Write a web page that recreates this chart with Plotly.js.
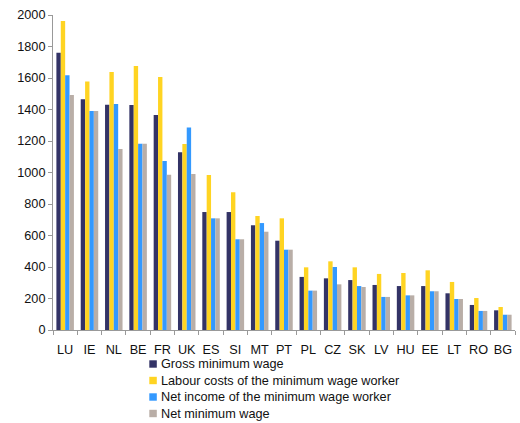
<!DOCTYPE html>
<html><head><meta charset="utf-8">
<script src="https://cdn.plot.ly/plotly-3.0.1.min.js"></script>
<style>html,body{margin:0;padding:0;background:#fff}#chart{width:520px;height:423px}</style>
</head><body><div id="chart"></div>
<script>
const countries = ["LU","IE","NL","BE","FR","UK","ES","SI","MT","PT","PL","CZ","SK","LV","HU","EE","LT","RO","BG"];
const grossMinWage = [1761,1465,1430,1429,1365,1128,749,749,665,567,337,328,317,286,279,279,233,159,125];
const labourCosts = [1962,1577,1638,1676,1606,1181,984,874,724,709,398,436,398,356,362,379,305,203,146];
const netIncome = [1617,1390,1435,1183,1073,1285,709,576,679,510,250,400,279,210,220,246,197,121,97];
const netMinWage = [1492,1390,1149,1183,986,990,709,576,624,510,250,290,273,210,220,246,197,121,97];
const seriesNames = ["Gross minimum wage","Labour costs of the minimum wage worker","Net income of the minimum wage worker","Net minimum wage"];
const colors = ["#333366","#FFD422","#3399FF","#B9AEA7"];
const vals = [grossMinWage, labourCosts, netIncome, netMinWage];
const traces = vals.map((v,i)=>({type:"bar",x:countries,y:v,name:seriesNames[i],marker:{color:colors[i]},showlegend:false}));

// Manual legend (paper coordinates): plot area is 462 x 315 px starting at (53,15)
const W = 462, H = 315;
const px = x => (x-53)/W, py = y => (330-y)/H;
const legendY = [364,380.5,397,413.5];
const shapes = [], annotations = [];
seriesNames.forEach((n,i)=>{
  shapes.push({type:"rect",xref:"paper",yref:"paper",x0:px(149.3),x1:px(156.8),y0:py(legendY[i]+3.7),y1:py(legendY[i]-3.7),fillcolor:colors[i],line:{width:0}});
  annotations.push({xref:"paper",yref:"paper",x:px(158.5),y:py(legendY[i]),xanchor:"left",yanchor:"middle",text:n,showarrow:false,font:{size:12.7,color:"#111"}});
});
const layout = {
  width:520,height:423,
  margin:{l:53,r:5,t:15,b:93},
  paper_bgcolor:"#fff",plot_bgcolor:"#fff",
  font:{family:"Liberation Sans, Arial, sans-serif",size:12.7,color:"#111"},
  barmode:"group",bargap:0.28,bargroupgap:0,
  showlegend:false,
  shapes:shapes, annotations:annotations,
  xaxis:{type:"category",automargin:false,tickangle:0,ticklabelstandoff:8,showline:true,linecolor:"#999",linewidth:1,ticks:"outside",tickson:"boundaries",ticklen:4,tickcolor:"#999",showgrid:false,zeroline:false},
  yaxis:{automargin:false,range:[0,2000],dtick:200,showline:true,linecolor:"#999",linewidth:1,ticks:"outside",ticklen:4,tickcolor:"#999",showgrid:false,zeroline:false}
};
Plotly.newPlot("chart",traces,layout,{displayModeBar:false,staticPlot:true});
</script></body></html>
